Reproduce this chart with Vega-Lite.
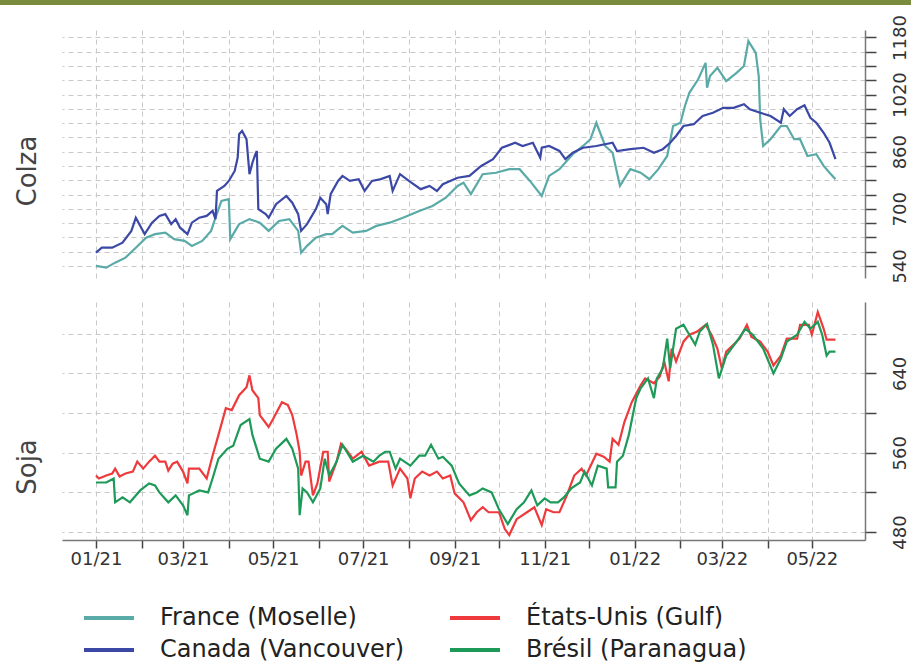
{
  "$schema": "https://vega.github.io/schema/vega-lite/v6.json",
  "padding": {"left": 0, "top": 0, "right": 0, "bottom": 0},
  "background": "white",
  "datasets": {
    "colza": [
      {"d":"2021-01-01","s":"France (Moselle)","v":540},{"d":"2021-01-08","s":"France (Moselle)","v":535},{"d":"2021-01-14","s":"France (Moselle)","v":549},{"d":"2021-01-21","s":"France (Moselle)","v":563},{"d":"2021-01-28","s":"France (Moselle)","v":591},{"d":"2021-02-04","s":"France (Moselle)","v":619},{"d":"2021-02-10","s":"France (Moselle)","v":629},{"d":"2021-02-17","s":"France (Moselle)","v":633},{"d":"2021-02-23","s":"France (Moselle)","v":615},{"d":"2021-03-02","s":"France (Moselle)","v":610},{"d":"2021-03-07","s":"France (Moselle)","v":596},{"d":"2021-03-14","s":"France (Moselle)","v":610},{"d":"2021-03-20","s":"France (Moselle)","v":638},{"d":"2021-03-23","s":"France (Moselle)","v":675},{"d":"2021-03-27","s":"France (Moselle)","v":722},{"d":"2021-04-01","s":"France (Moselle)","v":727},{"d":"2021-04-02","s":"France (Moselle)","v":615},{"d":"2021-04-08","s":"France (Moselle)","v":657},{"d":"2021-04-15","s":"France (Moselle)","v":671},{"d":"2021-04-22","s":"France (Moselle)","v":661},{"d":"2021-04-28","s":"France (Moselle)","v":638},{"d":"2021-05-05","s":"France (Moselle)","v":666},{"d":"2021-05-12","s":"France (Moselle)","v":671},{"d":"2021-05-18","s":"France (Moselle)","v":638},{"d":"2021-05-20","s":"France (Moselle)","v":577},{"d":"2021-05-24","s":"France (Moselle)","v":596},{"d":"2021-05-30","s":"France (Moselle)","v":619},{"d":"2021-06-06","s":"France (Moselle)","v":629},{"d":"2021-06-10","s":"France (Moselle)","v":629},{"d":"2021-06-17","s":"France (Moselle)","v":652},{"d":"2021-06-24","s":"France (Moselle)","v":633},{"d":"2021-07-03","s":"France (Moselle)","v":638},{"d":"2021-07-10","s":"France (Moselle)","v":652},{"d":"2021-07-19","s":"France (Moselle)","v":661},{"d":"2021-07-28","s":"France (Moselle)","v":675},{"d":"2021-08-08","s":"France (Moselle)","v":694},{"d":"2021-08-17","s":"France (Moselle)","v":708},{"d":"2021-08-26","s":"France (Moselle)","v":731},{"d":"2021-09-03","s":"France (Moselle)","v":764},{"d":"2021-09-07","s":"France (Moselle)","v":773},{"d":"2021-09-12","s":"France (Moselle)","v":741},{"d":"2021-09-20","s":"France (Moselle)","v":797},{"d":"2021-09-29","s":"France (Moselle)","v":801},{"d":"2021-10-08","s":"France (Moselle)","v":811},{"d":"2021-10-15","s":"France (Moselle)","v":811},{"d":"2021-10-22","s":"France (Moselle)","v":778},{"d":"2021-10-30","s":"France (Moselle)","v":736},{"d":"2021-11-04","s":"France (Moselle)","v":792},{"d":"2021-11-11","s":"France (Moselle)","v":811},{"d":"2021-11-20","s":"France (Moselle)","v":853},{"d":"2021-11-27","s":"France (Moselle)","v":876},{"d":"2021-12-02","s":"France (Moselle)","v":895},{"d":"2021-12-06","s":"France (Moselle)","v":941},{"d":"2021-12-12","s":"France (Moselle)","v":876},{"d":"2021-12-17","s":"France (Moselle)","v":857},{"d":"2021-12-22","s":"France (Moselle)","v":764},{"d":"2021-12-29","s":"France (Moselle)","v":811},{"d":"2022-01-05","s":"France (Moselle)","v":801},{"d":"2022-01-11","s":"France (Moselle)","v":783},{"d":"2022-01-17","s":"France (Moselle)","v":811},{"d":"2022-01-23","s":"France (Moselle)","v":848},{"d":"2022-01-27","s":"France (Moselle)","v":932},{"d":"2022-02-01","s":"France (Moselle)","v":941},{"d":"2022-02-04","s":"France (Moselle)","v":988},{"d":"2022-02-07","s":"France (Moselle)","v":1025},{"d":"2022-02-13","s":"France (Moselle)","v":1063},{"d":"2022-02-18","s":"France (Moselle)","v":1109},{"d":"2022-02-19","s":"France (Moselle)","v":1039},{"d":"2022-02-21","s":"France (Moselle)","v":1072},{"d":"2022-02-26","s":"France (Moselle)","v":1095},{"d":"2022-03-04","s":"France (Moselle)","v":1058},{"d":"2022-03-11","s":"France (Moselle)","v":1081},{"d":"2022-03-16","s":"France (Moselle)","v":1100},{"d":"2022-03-19","s":"France (Moselle)","v":1170},{"d":"2022-03-24","s":"France (Moselle)","v":1137},{"d":"2022-03-26","s":"France (Moselle)","v":1072},{"d":"2022-03-27","s":"France (Moselle)","v":951},{"d":"2022-03-29","s":"France (Moselle)","v":876},{"d":"2022-04-03","s":"France (Moselle)","v":895},{"d":"2022-04-10","s":"France (Moselle)","v":932},{"d":"2022-04-14","s":"France (Moselle)","v":932},{"d":"2022-04-19","s":"France (Moselle)","v":895},{"d":"2022-04-23","s":"France (Moselle)","v":895},{"d":"2022-04-28","s":"France (Moselle)","v":848},{"d":"2022-05-04","s":"France (Moselle)","v":853},{"d":"2022-05-09","s":"France (Moselle)","v":820},{"d":"2022-05-13","s":"France (Moselle)","v":801},{"d":"2022-05-17","s":"France (Moselle)","v":783},
      {"d":"2021-01-01","s":"Canada (Vancouver)","v":577},{"d":"2021-01-05","s":"Canada (Vancouver)","v":591},{"d":"2021-01-12","s":"Canada (Vancouver)","v":591},{"d":"2021-01-19","s":"Canada (Vancouver)","v":605},{"d":"2021-01-25","s":"Canada (Vancouver)","v":638},{"d":"2021-01-28","s":"Canada (Vancouver)","v":675},{"d":"2021-02-03","s":"Canada (Vancouver)","v":629},{"d":"2021-02-08","s":"Canada (Vancouver)","v":661},{"d":"2021-02-13","s":"Canada (Vancouver)","v":680},{"d":"2021-02-17","s":"Canada (Vancouver)","v":685},{"d":"2021-02-21","s":"Canada (Vancouver)","v":657},{"d":"2021-02-24","s":"Canada (Vancouver)","v":671},{"d":"2021-02-27","s":"Canada (Vancouver)","v":647},{"d":"2021-03-04","s":"Canada (Vancouver)","v":629},{"d":"2021-03-07","s":"Canada (Vancouver)","v":661},{"d":"2021-03-12","s":"Canada (Vancouver)","v":675},{"d":"2021-03-17","s":"Canada (Vancouver)","v":680},{"d":"2021-03-21","s":"Canada (Vancouver)","v":694},{"d":"2021-03-23","s":"Canada (Vancouver)","v":671},{"d":"2021-03-24","s":"Canada (Vancouver)","v":750},{"d":"2021-03-29","s":"Canada (Vancouver)","v":764},{"d":"2021-04-01","s":"Canada (Vancouver)","v":778},{"d":"2021-04-05","s":"Canada (Vancouver)","v":806},{"d":"2021-04-07","s":"Canada (Vancouver)","v":843},{"d":"2021-04-08","s":"Canada (Vancouver)","v":909},{"d":"2021-04-10","s":"Canada (Vancouver)","v":918},{"d":"2021-04-13","s":"Canada (Vancouver)","v":895},{"d":"2021-04-15","s":"Canada (Vancouver)","v":797},{"d":"2021-04-17","s":"Canada (Vancouver)","v":829},{"d":"2021-04-19","s":"Canada (Vancouver)","v":853},{"d":"2021-04-20","s":"Canada (Vancouver)","v":862},{"d":"2021-04-21","s":"Canada (Vancouver)","v":699},{"d":"2021-04-26","s":"Canada (Vancouver)","v":685},{"d":"2021-04-28","s":"Canada (Vancouver)","v":675},{"d":"2021-05-03","s":"Canada (Vancouver)","v":713},{"d":"2021-05-10","s":"Canada (Vancouver)","v":736},{"d":"2021-05-14","s":"Canada (Vancouver)","v":717},{"d":"2021-05-18","s":"Canada (Vancouver)","v":685},{"d":"2021-05-20","s":"Canada (Vancouver)","v":638},{"d":"2021-05-24","s":"Canada (Vancouver)","v":657},{"d":"2021-05-30","s":"Canada (Vancouver)","v":699},{"d":"2021-06-02","s":"Canada (Vancouver)","v":731},{"d":"2021-06-06","s":"Canada (Vancouver)","v":713},{"d":"2021-06-07","s":"Canada (Vancouver)","v":685},{"d":"2021-06-09","s":"Canada (Vancouver)","v":741},{"d":"2021-06-14","s":"Canada (Vancouver)","v":778},{"d":"2021-06-17","s":"Canada (Vancouver)","v":792},{"d":"2021-06-22","s":"Canada (Vancouver)","v":778},{"d":"2021-06-28","s":"Canada (Vancouver)","v":783},{"d":"2021-07-02","s":"Canada (Vancouver)","v":750},{"d":"2021-07-07","s":"Canada (Vancouver)","v":778},{"d":"2021-07-13","s":"Canada (Vancouver)","v":783},{"d":"2021-07-19","s":"Canada (Vancouver)","v":792},{"d":"2021-07-21","s":"Canada (Vancouver)","v":750},{"d":"2021-07-26","s":"Canada (Vancouver)","v":797},{"d":"2021-08-01","s":"Canada (Vancouver)","v":778},{"d":"2021-08-09","s":"Canada (Vancouver)","v":755},{"d":"2021-08-15","s":"Canada (Vancouver)","v":764},{"d":"2021-08-20","s":"Canada (Vancouver)","v":750},{"d":"2021-08-24","s":"Canada (Vancouver)","v":769},{"d":"2021-09-03","s":"Canada (Vancouver)","v":787},{"d":"2021-09-11","s":"Canada (Vancouver)","v":792},{"d":"2021-09-19","s":"Canada (Vancouver)","v":820},{"d":"2021-09-27","s":"Canada (Vancouver)","v":839},{"d":"2021-10-03","s":"Canada (Vancouver)","v":871},{"d":"2021-10-12","s":"Canada (Vancouver)","v":885},{"d":"2021-10-17","s":"Canada (Vancouver)","v":876},{"d":"2021-10-24","s":"Canada (Vancouver)","v":885},{"d":"2021-10-29","s":"Canada (Vancouver)","v":843},{"d":"2021-10-30","s":"Canada (Vancouver)","v":871},{"d":"2021-11-04","s":"Canada (Vancouver)","v":876},{"d":"2021-11-11","s":"Canada (Vancouver)","v":862},{"d":"2021-11-15","s":"Canada (Vancouver)","v":839},{"d":"2021-11-20","s":"Canada (Vancouver)","v":857},{"d":"2021-11-27","s":"Canada (Vancouver)","v":871},{"d":"2021-12-06","s":"Canada (Vancouver)","v":876},{"d":"2021-12-17","s":"Canada (Vancouver)","v":885},{"d":"2021-12-20","s":"Canada (Vancouver)","v":862},{"d":"2021-12-29","s":"Canada (Vancouver)","v":867},{"d":"2022-01-07","s":"Canada (Vancouver)","v":871},{"d":"2022-01-14","s":"Canada (Vancouver)","v":857},{"d":"2022-01-20","s":"Canada (Vancouver)","v":867},{"d":"2022-01-25","s":"Canada (Vancouver)","v":885},{"d":"2022-01-29","s":"Canada (Vancouver)","v":904},{"d":"2022-02-03","s":"Canada (Vancouver)","v":932},{"d":"2022-02-10","s":"Canada (Vancouver)","v":937},{"d":"2022-02-16","s":"Canada (Vancouver)","v":960},{"d":"2022-02-23","s":"Canada (Vancouver)","v":969},{"d":"2022-03-02","s":"Canada (Vancouver)","v":983},{"d":"2022-03-09","s":"Canada (Vancouver)","v":983},{"d":"2022-03-16","s":"Canada (Vancouver)","v":993},{"d":"2022-03-20","s":"Canada (Vancouver)","v":979},{"d":"2022-03-27","s":"Canada (Vancouver)","v":969},{"d":"2022-04-03","s":"Canada (Vancouver)","v":960},{"d":"2022-04-10","s":"Canada (Vancouver)","v":941},{"d":"2022-04-12","s":"Canada (Vancouver)","v":979},{"d":"2022-04-16","s":"Canada (Vancouver)","v":960},{"d":"2022-04-21","s":"Canada (Vancouver)","v":979},{"d":"2022-04-26","s":"Canada (Vancouver)","v":990},{"d":"2022-04-30","s":"Canada (Vancouver)","v":955},{"d":"2022-05-04","s":"Canada (Vancouver)","v":941},{"d":"2022-05-09","s":"Canada (Vancouver)","v":913},{"d":"2022-05-13","s":"Canada (Vancouver)","v":885},{"d":"2022-05-17","s":"Canada (Vancouver)","v":839}
    ],
    "soja": [
      {"d":"2021-01-01","s":"États-Unis (Gulf)","v":537},{"d":"2021-01-03","s":"États-Unis (Gulf)","v":534},{"d":"2021-01-08","s":"États-Unis (Gulf)","v":537},{"d":"2021-01-12","s":"États-Unis (Gulf)","v":539},{"d":"2021-01-14","s":"États-Unis (Gulf)","v":544},{"d":"2021-01-17","s":"États-Unis (Gulf)","v":536},{"d":"2021-01-21","s":"États-Unis (Gulf)","v":539},{"d":"2021-01-26","s":"États-Unis (Gulf)","v":541},{"d":"2021-01-29","s":"États-Unis (Gulf)","v":551},{"d":"2021-02-02","s":"États-Unis (Gulf)","v":544},{"d":"2021-02-06","s":"États-Unis (Gulf)","v":551},{"d":"2021-02-10","s":"États-Unis (Gulf)","v":557},{"d":"2021-02-13","s":"États-Unis (Gulf)","v":551},{"d":"2021-02-17","s":"États-Unis (Gulf)","v":551},{"d":"2021-02-19","s":"États-Unis (Gulf)","v":542},{"d":"2021-02-22","s":"États-Unis (Gulf)","v":549},{"d":"2021-02-25","s":"États-Unis (Gulf)","v":551},{"d":"2021-03-01","s":"États-Unis (Gulf)","v":541},{"d":"2021-03-04","s":"États-Unis (Gulf)","v":529},{"d":"2021-03-05","s":"États-Unis (Gulf)","v":544},{"d":"2021-03-12","s":"États-Unis (Gulf)","v":544},{"d":"2021-03-17","s":"États-Unis (Gulf)","v":534},{"d":"2021-03-21","s":"États-Unis (Gulf)","v":557},{"d":"2021-03-25","s":"États-Unis (Gulf)","v":578},{"d":"2021-03-30","s":"États-Unis (Gulf)","v":605},{"d":"2021-04-03","s":"États-Unis (Gulf)","v":603},{"d":"2021-04-08","s":"États-Unis (Gulf)","v":618},{"d":"2021-04-13","s":"États-Unis (Gulf)","v":626},{"d":"2021-04-15","s":"États-Unis (Gulf)","v":638},{"d":"2021-04-17","s":"États-Unis (Gulf)","v":623},{"d":"2021-04-21","s":"États-Unis (Gulf)","v":615},{"d":"2021-04-22","s":"États-Unis (Gulf)","v":598},{"d":"2021-04-28","s":"États-Unis (Gulf)","v":586},{"d":"2021-05-01","s":"États-Unis (Gulf)","v":594},{"d":"2021-05-07","s":"États-Unis (Gulf)","v":611},{"d":"2021-05-11","s":"États-Unis (Gulf)","v":608},{"d":"2021-05-14","s":"États-Unis (Gulf)","v":598},{"d":"2021-05-17","s":"États-Unis (Gulf)","v":578},{"d":"2021-05-19","s":"États-Unis (Gulf)","v":561},{"d":"2021-05-20","s":"États-Unis (Gulf)","v":537},{"d":"2021-05-23","s":"États-Unis (Gulf)","v":551},{"d":"2021-05-25","s":"États-Unis (Gulf)","v":551},{"d":"2021-05-28","s":"États-Unis (Gulf)","v":517},{"d":"2021-05-31","s":"États-Unis (Gulf)","v":529},{"d":"2021-06-04","s":"États-Unis (Gulf)","v":561},{"d":"2021-06-07","s":"États-Unis (Gulf)","v":561},{"d":"2021-06-08","s":"États-Unis (Gulf)","v":531},{"d":"2021-06-13","s":"États-Unis (Gulf)","v":551},{"d":"2021-06-16","s":"États-Unis (Gulf)","v":569},{"d":"2021-06-19","s":"États-Unis (Gulf)","v":564},{"d":"2021-06-24","s":"États-Unis (Gulf)","v":554},{"d":"2021-06-30","s":"États-Unis (Gulf)","v":561},{"d":"2021-07-05","s":"États-Unis (Gulf)","v":547},{"d":"2021-07-12","s":"États-Unis (Gulf)","v":551},{"d":"2021-07-18","s":"États-Unis (Gulf)","v":551},{"d":"2021-07-21","s":"États-Unis (Gulf)","v":527},{"d":"2021-07-26","s":"États-Unis (Gulf)","v":544},{"d":"2021-07-31","s":"États-Unis (Gulf)","v":534},{"d":"2021-08-02","s":"États-Unis (Gulf)","v":514},{"d":"2021-08-05","s":"États-Unis (Gulf)","v":534},{"d":"2021-08-10","s":"États-Unis (Gulf)","v":541},{"d":"2021-08-15","s":"États-Unis (Gulf)","v":537},{"d":"2021-08-20","s":"États-Unis (Gulf)","v":541},{"d":"2021-08-24","s":"États-Unis (Gulf)","v":534},{"d":"2021-08-29","s":"États-Unis (Gulf)","v":537},{"d":"2021-09-01","s":"États-Unis (Gulf)","v":519},{"d":"2021-09-07","s":"États-Unis (Gulf)","v":510},{"d":"2021-09-12","s":"États-Unis (Gulf)","v":492},{"d":"2021-09-16","s":"États-Unis (Gulf)","v":500},{"d":"2021-09-20","s":"États-Unis (Gulf)","v":505},{"d":"2021-09-24","s":"États-Unis (Gulf)","v":500},{"d":"2021-10-01","s":"États-Unis (Gulf)","v":500},{"d":"2021-10-05","s":"États-Unis (Gulf)","v":483},{"d":"2021-10-08","s":"États-Unis (Gulf)","v":477},{"d":"2021-10-13","s":"États-Unis (Gulf)","v":493},{"d":"2021-10-20","s":"États-Unis (Gulf)","v":500},{"d":"2021-10-25","s":"États-Unis (Gulf)","v":505},{"d":"2021-10-30","s":"États-Unis (Gulf)","v":487},{"d":"2021-11-02","s":"États-Unis (Gulf)","v":503},{"d":"2021-11-07","s":"États-Unis (Gulf)","v":500},{"d":"2021-11-11","s":"États-Unis (Gulf)","v":500},{"d":"2021-11-16","s":"États-Unis (Gulf)","v":517},{"d":"2021-11-21","s":"États-Unis (Gulf)","v":537},{"d":"2021-11-26","s":"États-Unis (Gulf)","v":544},{"d":"2021-11-29","s":"États-Unis (Gulf)","v":537},{"d":"2021-12-06","s":"États-Unis (Gulf)","v":559},{"d":"2021-12-11","s":"États-Unis (Gulf)","v":556},{"d":"2021-12-15","s":"États-Unis (Gulf)","v":551},{"d":"2021-12-17","s":"États-Unis (Gulf)","v":574},{"d":"2021-12-21","s":"États-Unis (Gulf)","v":568},{"d":"2021-12-25","s":"États-Unis (Gulf)","v":591},{"d":"2021-12-30","s":"États-Unis (Gulf)","v":611},{"d":"2022-01-05","s":"États-Unis (Gulf)","v":628},{"d":"2022-01-08","s":"États-Unis (Gulf)","v":635},{"d":"2022-01-14","s":"États-Unis (Gulf)","v":630},{"d":"2022-01-18","s":"États-Unis (Gulf)","v":637},{"d":"2022-01-21","s":"États-Unis (Gulf)","v":652},{"d":"2022-01-24","s":"États-Unis (Gulf)","v":632},{"d":"2022-01-26","s":"États-Unis (Gulf)","v":665},{"d":"2022-01-29","s":"États-Unis (Gulf)","v":652},{"d":"2022-02-03","s":"États-Unis (Gulf)","v":672},{"d":"2022-02-07","s":"États-Unis (Gulf)","v":679},{"d":"2022-02-12","s":"États-Unis (Gulf)","v":682},{"d":"2022-02-18","s":"États-Unis (Gulf)","v":689},{"d":"2022-02-22","s":"États-Unis (Gulf)","v":679},{"d":"2022-02-26","s":"États-Unis (Gulf)","v":665},{"d":"2022-03-01","s":"États-Unis (Gulf)","v":645},{"d":"2022-03-04","s":"États-Unis (Gulf)","v":662},{"d":"2022-03-09","s":"États-Unis (Gulf)","v":669},{"d":"2022-03-13","s":"États-Unis (Gulf)","v":675},{"d":"2022-03-18","s":"États-Unis (Gulf)","v":689},{"d":"2022-03-21","s":"États-Unis (Gulf)","v":677},{"d":"2022-03-27","s":"États-Unis (Gulf)","v":672},{"d":"2022-04-01","s":"États-Unis (Gulf)","v":662},{"d":"2022-04-05","s":"États-Unis (Gulf)","v":648},{"d":"2022-04-10","s":"États-Unis (Gulf)","v":658},{"d":"2022-04-14","s":"États-Unis (Gulf)","v":675},{"d":"2022-04-21","s":"États-Unis (Gulf)","v":675},{"d":"2022-04-23","s":"États-Unis (Gulf)","v":689},{"d":"2022-04-29","s":"États-Unis (Gulf)","v":689},{"d":"2022-05-01","s":"États-Unis (Gulf)","v":679},{"d":"2022-05-05","s":"États-Unis (Gulf)","v":702},{"d":"2022-05-09","s":"États-Unis (Gulf)","v":685},{"d":"2022-05-11","s":"États-Unis (Gulf)","v":674},{"d":"2022-05-17","s":"États-Unis (Gulf)","v":674},
      {"d":"2021-01-01","s":"Brésil (Paranagua)","v":530},{"d":"2021-01-08","s":"Brésil (Paranagua)","v":530},{"d":"2021-01-13","s":"Brésil (Paranagua)","v":534},{"d":"2021-01-14","s":"Brésil (Paranagua)","v":510},{"d":"2021-01-19","s":"Brésil (Paranagua)","v":515},{"d":"2021-01-24","s":"Brésil (Paranagua)","v":510},{"d":"2021-01-31","s":"Brésil (Paranagua)","v":522},{"d":"2021-02-06","s":"Brésil (Paranagua)","v":529},{"d":"2021-02-10","s":"Brésil (Paranagua)","v":527},{"d":"2021-02-13","s":"Brésil (Paranagua)","v":520},{"d":"2021-02-19","s":"Brésil (Paranagua)","v":510},{"d":"2021-02-24","s":"Brésil (Paranagua)","v":517},{"d":"2021-03-01","s":"Brésil (Paranagua)","v":507},{"d":"2021-03-04","s":"Brésil (Paranagua)","v":497},{"d":"2021-03-05","s":"Brésil (Paranagua)","v":517},{"d":"2021-03-12","s":"Brésil (Paranagua)","v":522},{"d":"2021-03-18","s":"Brésil (Paranagua)","v":520},{"d":"2021-03-21","s":"Brésil (Paranagua)","v":534},{"d":"2021-03-25","s":"Brésil (Paranagua)","v":554},{"d":"2021-03-31","s":"Brésil (Paranagua)","v":564},{"d":"2021-04-04","s":"Brésil (Paranagua)","v":567},{"d":"2021-04-09","s":"Brésil (Paranagua)","v":588},{"d":"2021-04-15","s":"Brésil (Paranagua)","v":594},{"d":"2021-04-17","s":"Brésil (Paranagua)","v":578},{"d":"2021-04-22","s":"Brésil (Paranagua)","v":554},{"d":"2021-04-28","s":"Brésil (Paranagua)","v":551},{"d":"2021-05-03","s":"Brésil (Paranagua)","v":564},{"d":"2021-05-10","s":"Brésil (Paranagua)","v":574},{"d":"2021-05-14","s":"Brésil (Paranagua)","v":564},{"d":"2021-05-18","s":"Brésil (Paranagua)","v":544},{"d":"2021-05-19","s":"Brésil (Paranagua)","v":497},{"d":"2021-05-21","s":"Brésil (Paranagua)","v":524},{"d":"2021-05-24","s":"Brésil (Paranagua)","v":520},{"d":"2021-05-28","s":"Brésil (Paranagua)","v":510},{"d":"2021-06-02","s":"Brésil (Paranagua)","v":524},{"d":"2021-06-05","s":"Brésil (Paranagua)","v":554},{"d":"2021-06-08","s":"Brésil (Paranagua)","v":537},{"d":"2021-06-13","s":"Brésil (Paranagua)","v":551},{"d":"2021-06-17","s":"Brésil (Paranagua)","v":568},{"d":"2021-06-24","s":"Brésil (Paranagua)","v":551},{"d":"2021-07-01","s":"Brésil (Paranagua)","v":557},{"d":"2021-07-08","s":"Brésil (Paranagua)","v":551},{"d":"2021-07-12","s":"Brésil (Paranagua)","v":557},{"d":"2021-07-16","s":"Brésil (Paranagua)","v":561},{"d":"2021-07-19","s":"Brésil (Paranagua)","v":561},{"d":"2021-07-23","s":"Brésil (Paranagua)","v":544},{"d":"2021-07-26","s":"Brésil (Paranagua)","v":554},{"d":"2021-08-02","s":"Brésil (Paranagua)","v":547},{"d":"2021-08-08","s":"Brésil (Paranagua)","v":557},{"d":"2021-08-12","s":"Brésil (Paranagua)","v":557},{"d":"2021-08-16","s":"Brésil (Paranagua)","v":568},{"d":"2021-08-21","s":"Brésil (Paranagua)","v":554},{"d":"2021-08-24","s":"Brésil (Paranagua)","v":556},{"d":"2021-08-30","s":"Brésil (Paranagua)","v":547},{"d":"2021-09-04","s":"Brésil (Paranagua)","v":529},{"d":"2021-09-11","s":"Brésil (Paranagua)","v":517},{"d":"2021-09-16","s":"Brésil (Paranagua)","v":520},{"d":"2021-09-20","s":"Brésil (Paranagua)","v":524},{"d":"2021-09-26","s":"Brésil (Paranagua)","v":520},{"d":"2021-10-01","s":"Brésil (Paranagua)","v":503},{"d":"2021-10-07","s":"Brésil (Paranagua)","v":488},{"d":"2021-10-13","s":"Brésil (Paranagua)","v":503},{"d":"2021-10-18","s":"Brésil (Paranagua)","v":510},{"d":"2021-10-23","s":"Brésil (Paranagua)","v":522},{"d":"2021-10-27","s":"Brésil (Paranagua)","v":507},{"d":"2021-11-01","s":"Brésil (Paranagua)","v":514},{"d":"2021-11-05","s":"Brésil (Paranagua)","v":510},{"d":"2021-11-10","s":"Brésil (Paranagua)","v":510},{"d":"2021-11-14","s":"Brésil (Paranagua)","v":515},{"d":"2021-11-19","s":"Brésil (Paranagua)","v":524},{"d":"2021-11-25","s":"Brésil (Paranagua)","v":530},{"d":"2021-11-28","s":"Brésil (Paranagua)","v":541},{"d":"2021-12-03","s":"Brésil (Paranagua)","v":527},{"d":"2021-12-07","s":"Brésil (Paranagua)","v":547},{"d":"2021-12-13","s":"Brésil (Paranagua)","v":544},{"d":"2021-12-14","s":"Brésil (Paranagua)","v":525},{"d":"2021-12-19","s":"Brésil (Paranagua)","v":525},{"d":"2021-12-20","s":"Brésil (Paranagua)","v":551},{"d":"2021-12-24","s":"Brésil (Paranagua)","v":557},{"d":"2021-12-28","s":"Brésil (Paranagua)","v":578},{"d":"2022-01-02","s":"Brésil (Paranagua)","v":615},{"d":"2022-01-05","s":"Brésil (Paranagua)","v":625},{"d":"2022-01-10","s":"Brésil (Paranagua)","v":635},{"d":"2022-01-14","s":"Brésil (Paranagua)","v":615},{"d":"2022-01-16","s":"Brésil (Paranagua)","v":635},{"d":"2022-01-20","s":"Brésil (Paranagua)","v":645},{"d":"2022-01-23","s":"Brésil (Paranagua)","v":675},{"d":"2022-01-25","s":"Brésil (Paranagua)","v":645},{"d":"2022-01-29","s":"Brésil (Paranagua)","v":685},{"d":"2022-02-03","s":"Brésil (Paranagua)","v":689},{"d":"2022-02-07","s":"Brésil (Paranagua)","v":679},{"d":"2022-02-11","s":"Brésil (Paranagua)","v":669},{"d":"2022-02-14","s":"Brésil (Paranagua)","v":682},{"d":"2022-02-19","s":"Brésil (Paranagua)","v":690},{"d":"2022-02-23","s":"Brésil (Paranagua)","v":669},{"d":"2022-02-27","s":"Brésil (Paranagua)","v":635},{"d":"2022-03-04","s":"Brésil (Paranagua)","v":658},{"d":"2022-03-11","s":"Brésil (Paranagua)","v":672},{"d":"2022-03-17","s":"Brésil (Paranagua)","v":685},{"d":"2022-03-22","s":"Brésil (Paranagua)","v":679},{"d":"2022-03-29","s":"Brésil (Paranagua)","v":665},{"d":"2022-04-05","s":"Brésil (Paranagua)","v":640},{"d":"2022-04-10","s":"Brésil (Paranagua)","v":655},{"d":"2022-04-14","s":"Brésil (Paranagua)","v":672},{"d":"2022-04-21","s":"Brésil (Paranagua)","v":679},{"d":"2022-04-26","s":"Brésil (Paranagua)","v":692},{"d":"2022-04-30","s":"Brésil (Paranagua)","v":685},{"d":"2022-05-05","s":"Brésil (Paranagua)","v":692},{"d":"2022-05-08","s":"Brésil (Paranagua)","v":679},{"d":"2022-05-11","s":"Brésil (Paranagua)","v":658},{"d":"2022-05-13","s":"Brésil (Paranagua)","v":662},{"d":"2022-05-17","s":"Brésil (Paranagua)","v":662}
    ]
  },
  "spacing": 9,
  "vconcat": [
    {
      "width": 911,
      "height": 5,
      "data": {"values": [{}]},
      "mark": {"type": "rect", "color": "#7b8b3d"}
    },
    {
      "spacing": 18,
      "vconcat": [
        {
          "spacing": 6,
          "hconcat": [
            {
              "width": 56,
              "height": 248,
              "data": {"values": [{"t": "Colza"}]},
              "mark": {"type": "text", "angle": 270, "fontSize": 26, "font": "DejaVu Sans", "color": "#444444", "align": "center", "baseline": "middle", "dx": -17},
              "encoding": {"text": {"field": "t"}}
            },
            {
              "width": 803,
              "height": 248,
              "data": {"name": "colza"},
              "mark": {"type": "line", "strokeWidth": 2.2},
              "encoding": {
                "x": {"field": "d", "type": "temporal",
                  "scale": {"type": "utc", "domain": [{"year": 2020, "month": 12, "date": 9, "utc": true}, {"year": 2022, "month": 6, "date": 6, "utc": true}]},
                  "axis": {"title": null, "labels": false, "ticks": false, "domain": false, "grid": true,
                    "values": [{"year":2021,"month":1,"date":1,"utc":true},{"year":2021,"month":2,"date":1,"utc":true},{"year":2021,"month":3,"date":1,"utc":true},{"year":2021,"month":4,"date":1,"utc":true},{"year":2021,"month":5,"date":1,"utc":true},{"year":2021,"month":6,"date":1,"utc":true},{"year":2021,"month":7,"date":1,"utc":true},{"year":2021,"month":8,"date":1,"utc":true},{"year":2021,"month":9,"date":1,"utc":true},{"year":2021,"month":10,"date":1,"utc":true},{"year":2021,"month":11,"date":1,"utc":true},{"year":2021,"month":12,"date":1,"utc":true},{"year":2022,"month":1,"date":1,"utc":true},{"year":2022,"month":2,"date":1,"utc":true},{"year":2022,"month":3,"date":1,"utc":true},{"year":2022,"month":4,"date":1,"utc":true},{"year":2022,"month":5,"date":1,"utc":true}]}},
                "y": {"field": "v", "type": "quantitative",
                  "scale": {"domain": [506, 1201], "nice": false, "zero": false},
                  "axis": {"title": null, "orient": "right", "format": "d", "values": [540,580,620,660,700,740,780,820,860,900,940,980,1020,1060,1100,1140,1180],
                    "labelExpr": "(datum.value - 540) % 160 == 0 ? datum.label : ''", "labelAngle": -90, "labelAlign": "center", "labelBaseline": "top", "labelOverlap": false, "labelFlush": false, "labelPadding": 15, "tickSize": 11}},
                "color": {"field": "s", "type": "nominal",
                  "scale": {"domain": ["France (Moselle)", "Canada (Vancouver)", "États-Unis (Gulf)", "Brésil (Paranagua)"], "range": ["#5aaaa8", "#3b48a6", "#ee3a3c", "#1e9a58"]},
                  "legend": {"title": null}}
              }
            }
          ]
        },
        {
          "spacing": 6,
          "hconcat": [
            {
              "width": 56,
              "height": 238,
              "data": {"values": [{"t": "Soja"}]},
              "mark": {"type": "text", "angle": 270, "fontSize": 26, "font": "DejaVu Sans", "color": "#444444", "align": "center", "baseline": "middle", "dx": -46},
              "encoding": {"text": {"field": "t"}}
            },
            {
              "width": 803,
              "height": 238,
              "data": {"name": "soja"},
              "mark": {"type": "line", "strokeWidth": 2.2},
              "encoding": {
                "x": {"field": "d", "type": "temporal",
                  "scale": {"type": "utc", "domain": [{"year": 2020, "month": 12, "date": 9, "utc": true}, {"year": 2022, "month": 6, "date": 6, "utc": true}]},
                  "axis": {"title": null, "grid": true, "domain": true, "ticks": true, "tickSize": 8, "labelPadding": 2, "labelOverlap": false, "labelFlush": false,
                    "labelExpr": "utcmonth(datum.value) % 2 == 0 ? utcFormat(datum.value, '%m/%y') : ''",
                    "values": [{"year":2021,"month":1,"date":1,"utc":true},{"year":2021,"month":2,"date":1,"utc":true},{"year":2021,"month":3,"date":1,"utc":true},{"year":2021,"month":4,"date":1,"utc":true},{"year":2021,"month":5,"date":1,"utc":true},{"year":2021,"month":6,"date":1,"utc":true},{"year":2021,"month":7,"date":1,"utc":true},{"year":2021,"month":8,"date":1,"utc":true},{"year":2021,"month":9,"date":1,"utc":true},{"year":2021,"month":10,"date":1,"utc":true},{"year":2021,"month":11,"date":1,"utc":true},{"year":2021,"month":12,"date":1,"utc":true},{"year":2022,"month":1,"date":1,"utc":true},{"year":2022,"month":2,"date":1,"utc":true},{"year":2022,"month":3,"date":1,"utc":true},{"year":2022,"month":4,"date":1,"utc":true},{"year":2022,"month":5,"date":1,"utc":true}]}},
                "y": {"field": "v", "type": "quantitative",
                  "scale": {"domain": [472, 712], "nice": false, "zero": false},
                  "axis": {"title": null, "orient": "right", "format": "d", "values": [480,520,560,600,640,680],
                    "labelExpr": "datum.value % 80 == 0 ? datum.label : ''", "labelAngle": -90, "labelAlign": "center", "labelBaseline": "top", "labelOverlap": false, "labelFlush": false, "labelPadding": 15, "tickSize": 11}},
                "color": {"field": "s", "type": "nominal",
                  "scale": {"domain": ["France (Moselle)", "Canada (Vancouver)", "États-Unis (Gulf)", "Brésil (Paranagua)"], "range": ["#5aaaa8", "#3b48a6", "#ee3a3c", "#1e9a58"]},
                  "legend": {"title": null}}
              }
            }
          ]
        }
      ]
    }
  ],
  "resolve": {"scale": {"color": "shared"}},
  "config": {
    "view": {"stroke": null},
    "axis": {"labelFont": "DejaVu Sans", "labelFontSize": 18, "labelColor": "#333333", "gridColor": "#c8c8c8", "gridDash": [5, 4], "gridWidth": 1, "tickColor": "#444444", "tickWidth": 1.5, "domainColor": "#777777", "domainWidth": 1.5},
    "legend": {"orient": "none", "legendX": 82, "legendY": 603, "columns": 2, "symbolType": "stroke", "symbolSize": 2500, "symbolStrokeWidth": 4, "clipHeight": 30, "labelFont": "DejaVu Sans", "labelFontSize": 24, "labelColor": "#222222", "labelLimit": 600, "labelOffset": 24, "columnPadding": 43, "rowPadding": 2}
  }
}
